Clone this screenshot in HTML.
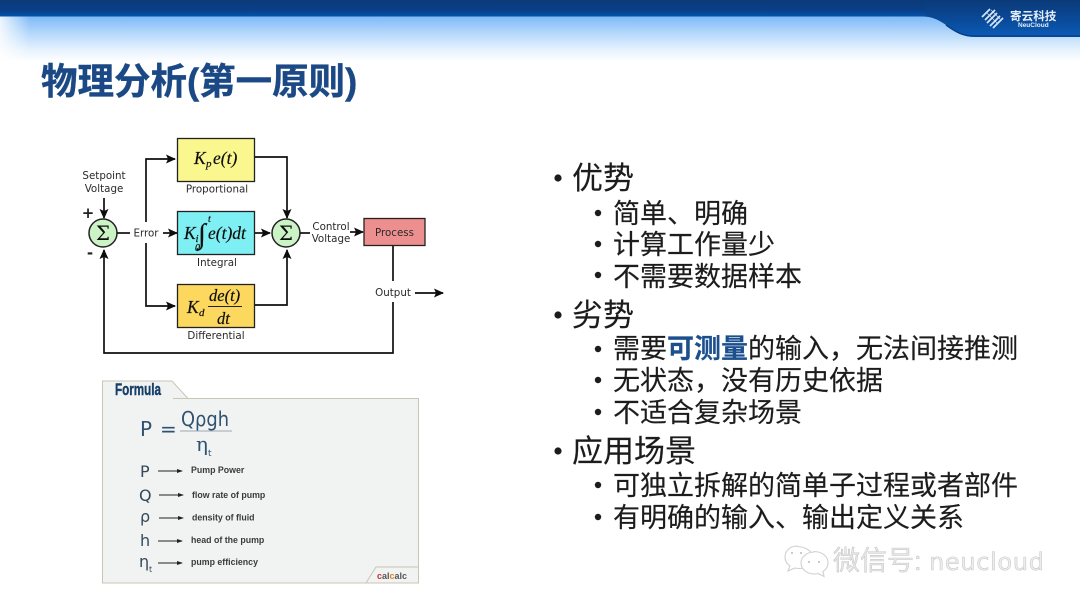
<!DOCTYPE html>
<html lang="zh">
<head>
<meta charset="utf-8">
<title>物理分析(第一原则)</title>
<style>
html,body{margin:0;padding:0;background:#fff;}
body{width:1080px;height:608px;overflow:hidden;}
svg{display:block;}
.cjk{font-family:"Liberation Sans","Noto Sans CJK SC",sans-serif;}
.l1{font-size:31px;fill:#1c1c1c;stroke:#1c1c1c;stroke-width:.15px;}
.l2{font-size:27px;fill:#1c1c1c;stroke:#1c1c1c;stroke-width:.15px;}
.lab{font-family:"DejaVu Sans","Liberation Sans",sans-serif;font-size:10.300px;fill:#2a2a2a;}
.m{font-family:"Liberation Serif",serif;font-style:italic;fill:#111;stroke:#111;stroke-width:.2px;}
.f{font-family:"Liberation Sans",sans-serif;fill:#3a3a3a;font-size:8.800px;font-weight:bold;}
.s{font-family:"DejaVu Sans",sans-serif;fill:#36485a;font-size:16px;}
</style>
</head>
<body>
<svg width="1080" height="608" viewBox="0 0 1080 608" xmlns="http://www.w3.org/2000/svg">
<defs>
<linearGradient id="sky" x1="0" y1="0" x2="0" y2="1">
<stop offset="0" stop-color="#7db9f8"/>
<stop offset=".4" stop-color="#b8dafb"/>
<stop offset=".75" stop-color="#e8f3fe"/>
<stop offset="1" stop-color="#ffffff"/>
</linearGradient>
<linearGradient id="fadeL" x1="0" y1="0" x2="1" y2="0">
<stop offset="0" stop-color="#fff" stop-opacity=".85"/>
<stop offset="1" stop-color="#fff" stop-opacity="0"/>
</linearGradient>
<linearGradient id="band" x1="0" y1="0" x2="0" y2="1">
<stop offset="0" stop-color="#0b3a78"/>
<stop offset=".6" stop-color="#0a3f88"/>
<stop offset="1" stop-color="#0552ab"/>
</linearGradient>
<linearGradient id="bandR" x1="0" y1="0" x2="0" y2="1">
<stop offset="0" stop-color="#0b3a78"/>
<stop offset=".55" stop-color="#0a4a9a"/>
<stop offset="1" stop-color="#0b5cb8"/>
</linearGradient>
<marker id="a" markerWidth="10" markerHeight="9" refX="9" refY="4.500" orient="auto" markerUnits="userSpaceOnUse">
<path d="M0 0L10 4.500L0 9L2 4.500Z" fill="#111"/>
</marker>
<marker id="b" markerWidth="6" markerHeight="5" refX="5" refY="2.500" orient="auto" markerUnits="userSpaceOnUse">
<path d="M0 .5L6 2.500L0 4.500Z" fill="#222"/>
</marker>
<filter id="soft"><feGaussianBlur stdDeviation=".35"/></filter>
<filter id="soft2"><feGaussianBlur stdDeviation=".3"/></filter>
</defs>

<!-- header -->
<rect x="0" y="16" width="1080" height="46" fill="url(#sky)"/>
<rect x="0" y="16" width="30" height="46" fill="url(#fadeL)"/>
<path d="M0 0H1080V37H975C961 37 955 31 946 25C938 19.500 932 16.500 922 16.500H0Z" fill="url(#bandR)"/>
<rect x="0" y="0" width="925" height="16.500" fill="url(#band)"/>
<path d="M946 25C955 31 961 36 975 36H1080" fill="none" stroke="#0a3f88" stroke-width="1.500"/>

<!-- logo -->
<g stroke="#d8e6f5" stroke-width="1.700" fill="none" filter="url(#soft2)">
<path d="M982 17L990 9M985 20L995 10M987 23L997 13M990 26L1000 16M993 28L1003 18"/>
<path d="M987 13L997 23M991 10L1000 19" stroke-width=".6"/>
</g>
<text x="1010" y="20" class="cjk" font-size="11.600" font-weight="bold" fill="#e4eef9">寄云科技</text>
<text x="1018" y="27" font-family="Liberation Sans,sans-serif" font-size="6.500" font-weight="bold" fill="#e4eef9">NeuCloud</text>

<!-- title -->
<g filter="url(#soft2)">
<text x="41" y="94" class="cjk" font-size="36.500" font-weight="bold" fill="#1a4a85" stroke="#1a4a85" stroke-width=".4">物理分析(第一原则)</text>
</g>

<!-- PID diagram -->
<g filter="url(#soft)">
<rect x="177.500" y="138.500" width="77" height="43" fill="#fbf78f" stroke="#222" stroke-width="1.300"/>
<rect x="177.500" y="211.500" width="77" height="43" fill="#7eeff2" stroke="#222" stroke-width="1.300"/>
<rect x="177.500" y="284.500" width="77" height="43" fill="#fdd85e" stroke="#222" stroke-width="1.300"/>
<rect x="364" y="218.500" width="61" height="27" fill="#ee8f8f" stroke="#222" stroke-width="1.300"/>
<circle cx="103" cy="233" r="14" fill="#ccf3c6" stroke="#222" stroke-width="1.500"/>
<circle cx="286" cy="233" r="14" fill="#ccf3c6" stroke="#222" stroke-width="1.500"/>
<text x="103" y="240" text-anchor="middle" font-family="DejaVu Serif,Liberation Serif,serif" font-size="20" fill="#111">Σ</text>
<text x="286" y="240" text-anchor="middle" font-family="DejaVu Serif,Liberation Serif,serif" font-size="20" fill="#111">Σ</text>

<g fill="none" stroke="#111" stroke-width="1.700">
<path d="M104 198V218" marker-end="url(#a)"/>
<path d="M117 233H130"/>
<path d="M163 233H177" marker-end="url(#a)"/>
<path d="M146 222V159H175" marker-end="url(#a)"/>
<path d="M146 243V306H175" marker-end="url(#a)"/>
<path d="M255 157H287V218" marker-end="url(#a)"/>
<path d="M255 233H270" marker-end="url(#a)"/>
<path d="M255 305H287V250" marker-end="url(#a)"/>
<path d="M300 233H310"/>
<path d="M350 232H363" marker-end="url(#a)"/>
<path d="M393 246V281"/>
<path d="M393 302V353H104V250" marker-end="url(#a)"/>
<path d="M415 293H443" marker-end="url(#a)"/>
</g>

<text x="104" y="179" text-anchor="middle" class="lab">Setpoint</text>
<text x="104" y="192" text-anchor="middle" class="lab">Voltage</text>
<text x="88" y="218" text-anchor="middle" font-family="DejaVu Sans,sans-serif" font-size="15" font-weight="bold" fill="#222">+</text>
<text x="90" y="258" text-anchor="middle" font-family="DejaVu Sans,sans-serif" font-size="15" font-weight="bold" fill="#222">-</text>
<text x="146" y="236.500" text-anchor="middle" class="lab">Error</text>
<text x="217" y="192.500" text-anchor="middle" class="lab">Proportional</text>
<text x="217" y="266" text-anchor="middle" class="lab">Integral</text>
<text x="216" y="339" text-anchor="middle" class="lab">Differential</text>
<text x="331" y="230" text-anchor="middle" class="lab">Control</text>
<text x="331" y="242" text-anchor="middle" class="lab">Voltage</text>
<text x="394.500" y="236" text-anchor="middle" class="lab">Process</text>
<text x="393" y="296" text-anchor="middle" class="lab">Output</text>

<text x="194" y="164" class="m" font-size="17.500">K</text>
<text x="206" y="167" class="m" font-size="11">p</text>
<text x="213" y="164" class="m" font-size="17.500">e(t)</text>

<text x="184" y="239" class="m" font-size="17.500">K</text>
<text x="195.500" y="242" class="m" font-size="11">i</text>
<text x="198" y="243" class="m" font-size="28">∫</text>
<text x="208" y="222" class="m" font-size="10">t</text>
<text x="195" y="251" class="m" font-size="10">0</text>
<text x="208" y="239" class="m" font-size="17.500">e(t)dt</text>

<text x="187" y="313" class="m" font-size="17.500">K</text>
<text x="199" y="316" class="m" font-size="11">d</text>
<text x="209" y="301" class="m" font-size="16.500">de(t)</text>
<line x1="208" y1="306.500" x2="242" y2="306.500" stroke="#222" stroke-width="1.100"/>
<text x="217" y="324" class="m" font-size="16.500">dt</text>
</g>

<!-- Formula panel -->
<g filter="url(#soft)">
<path d="M102.500 398.500V381H172L188 398.500" fill="#f1f2f2" stroke="#c9c6b4" stroke-width="1"/>
<rect x="102.500" y="398.500" width="316" height="184.500" fill="#f1f2f2" stroke="#c9c6b4" stroke-width="1"/>
<rect x="103" y="396" width="70" height="4" fill="#f1f2f2"/>
<text x="115" y="395" font-family="Liberation Sans,sans-serif" font-size="17" font-weight="bold" fill="#143f68" stroke="#143f68" stroke-width=".4" textLength="46" lengthAdjust="spacingAndGlyphs">Formula</text>
<text x="140" y="436" font-family="DejaVu Sans,sans-serif" font-size="20" fill="#2f5272">P</text>
<text x="160" y="436" font-family="DejaVu Sans,sans-serif" font-size="20" fill="#2f5272">=</text>
<text x="181" y="426" font-family="DejaVu Sans,sans-serif" font-size="20" fill="#2f5272" textLength="48" lengthAdjust="spacingAndGlyphs">Qρgh</text>
<line x1="180" y1="431" x2="232" y2="431" stroke="#9aa8b4" stroke-width="1"/>
<text x="196" y="451" font-family="DejaVu Serif,serif" font-size="20" fill="#2f5272">η</text>
<text x="208" y="456" font-family="DejaVu Sans,sans-serif" font-size="9" fill="#2f5272">t</text>

<text x="140" y="477" class="s">P</text>
<text x="139" y="501" class="s">Q</text>
<text x="140" y="522" class="s">ρ</text>
<text x="140" y="546" class="s">h</text>
<text x="139" y="567" class="s">η</text>
<text x="149" y="572" font-family="DejaVu Sans,sans-serif" font-size="8" fill="#36485a">t</text>

<g stroke="#222" stroke-width="1" fill="none">
<path d="M158 471H182" marker-end="url(#b)"/>
<path d="M159 495H183" marker-end="url(#b)"/>
<path d="M159 518H183" marker-end="url(#b)"/>
<path d="M158 541H182" marker-end="url(#b)"/>
<path d="M158 563H182" marker-end="url(#b)"/>
</g>
<text x="191" y="473" class="f">Pump Power</text>
<text x="192" y="498" class="f">flow rate of pump</text>
<text x="192" y="520.500" class="f">density of fluid</text>
<text x="191" y="543" class="f">head of the pump</text>
<text x="191" y="565" class="f">pump efficiency</text>
<path d="M366 583L376 567H418" fill="none" stroke="#c9c6b4" stroke-width="1"/>
<text x="377" y="579" font-family="Liberation Sans,sans-serif" font-size="9" font-weight="bold" fill="#555"><tspan fill="#c0392b">c</tspan>al<tspan fill="#e67e22">c</tspan>alc</text>
</g>

<!-- bullets -->
<g fill="#1c1c1c">
<circle cx="558" cy="178" r="3.600"/>
<circle cx="558" cy="315" r="3.600"/>
<circle cx="558" cy="451" r="3.600"/>
<circle cx="598" cy="213" r="3.200"/>
<circle cx="598" cy="244" r="3.200"/>
<circle cx="598" cy="275" r="3.200"/>
<circle cx="598" cy="349" r="3.200"/>
<circle cx="598" cy="380" r="3.200"/>
<circle cx="598" cy="412" r="3.200"/>
<circle cx="598" cy="485" r="3.200"/>
<circle cx="598" cy="517" r="3.200"/>
</g>
<g class="cjk" filter="url(#soft2)">
<text x="572" y="189" class="l1">优势</text>
<text x="613" y="223" class="l2">简单、明确</text>
<text x="613" y="254" class="l2">计算工作量少</text>
<text x="613" y="286" class="l2">不需要数据样本</text>
<text x="572" y="326" class="l1">劣势</text>
<text x="613" y="358" class="l2">需要<tspan fill="#1a4f8e" stroke="#1a4f8e" font-weight="bold">可测量</tspan>的输入，无法间接推测</text>
<text x="613" y="390" class="l2">无状态，没有历史依据</text>
<text x="613" y="422" class="l2">不适合复杂场景</text>
<text x="572" y="462" class="l1">应用场景</text>
<text x="613" y="495" class="l2">可独立拆解的简单子过程或者部件</text>
<text x="613" y="527" class="l2">有明确的输入、输出定义关系</text>
</g>

<!-- watermark -->
<g fill="#fff" stroke="#d0d0d0" stroke-width="1.100">
<path d="M797 546c-7 0-12 5-12 11c0 4 2 7 5 9l-2 5l7-3c2 .5 3 .5 5 .5c7 0 13-5 13-11c0-6-8-11-16-11z"/>
<path d="M814 552c-7 0-13 5-13 11c0 6 6 11 13 11c2 0 3 0 4-.5l6 3l-1-5c3-2 5-5 5-9c0-6-6-11-14-11z"/>
</g>
<g fill="#bbb"><circle cx="809" cy="562" r="1"/><circle cx="819" cy="562" r="1"/><circle cx="792" cy="553" r="1"/><circle cx="801" cy="553" r="1"/></g>
<text x="833" y="570" class="cjk" font-size="27" fill="#e6e6e6" stroke="#b4b4b4" stroke-width=".35">微信号:</text>
<text x="929" y="570" font-family="DejaVu Sans,sans-serif" font-size="24" fill="#ececec" stroke="#b4b4b4" stroke-width=".35" textLength="115" lengthAdjust="spacing">neucloud</text>
</svg>
</body>
</html>
